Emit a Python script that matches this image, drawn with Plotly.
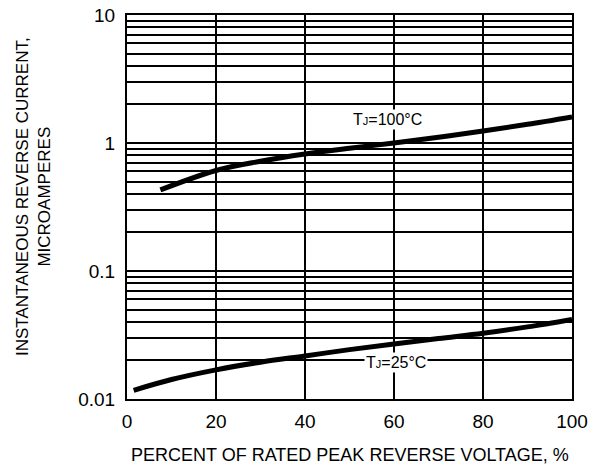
import plotly.graph_objects as go

# Data
pct_100c = [7.5, 20, 30, 40, 50, 60, 70, 80, 90, 100]
cur_100c = [0.43, 0.61, 0.72, 0.82, 0.91, 1.0, 1.11, 1.24, 1.40, 1.60]
pct_25c = [1.5, 10, 20, 30, 40, 50, 60, 70, 80, 90, 100]
cur_25c = [0.0117, 0.0142, 0.0169, 0.0194, 0.0217, 0.0243, 0.0269, 0.0297, 0.0326, 0.0366, 0.0419]

x_ticks = [0, 20, 40, 60, 80, 100]
y_ticks = [0.01, 0.1, 1, 10]
y_tick_text = ["0.01", "0.1", "1", "10"]
y_minor = [m * d for d in (0.01, 0.1, 1) for m in range(2, 10)]

label_100 = "T<span style='font-size:11px'>J</span>=100°C"
label_25 = "T<span style='font-size:11px'>J</span>=25°C"

FONT = "Liberation Sans, Arial, sans-serif"

fig = go.Figure()
fig.add_trace(go.Scatter(x=pct_100c, y=cur_100c, mode="lines",
                         line=dict(color="black", width=5, shape="spline"),
                         showlegend=False, hoverinfo="skip"))
fig.add_trace(go.Scatter(x=pct_25c, y=cur_25c, mode="lines",
                         line=dict(color="black", width=5, shape="spline"),
                         showlegend=False, hoverinfo="skip"))

fig.add_annotation(x=58.5, y=0.18, xref="x", yref="y", text=label_100,
                   showarrow=False, bgcolor="white", borderpad=1,
                   font=dict(family=FONT, size=16, color="black"))
fig.add_annotation(x=60.5, y=-1.715, xref="x", yref="y", text=label_25,
                   showarrow=False, bgcolor="white", borderpad=1,
                   font=dict(family=FONT, size=16, color="black"))

# axis titles
fig.add_annotation(x=(33 - 127) / 445, y=(399 - 197) / 384, xref="paper", yref="paper",
                   xanchor="center", yanchor="middle",
                   text="INSTANTANEOUS REVERSE CURRENT,<br>MICROAMPERES",
                   textangle=-90, showarrow=False,
                   font=dict(family=FONT, size=17, color="black"))
fig.add_annotation(x=0.5, y=(399 - 455) / 384, xref="paper", yref="paper",
                   xanchor="center", yanchor="middle",
                   text="PERCENT OF RATED PEAK REVERSE VOLTAGE, %",
                   showarrow=False,
                   font=dict(family=FONT, size=18, color="black"))

fig.update_xaxes(range=[0, 100], tickvals=x_ticks, ticks="", automargin=False,
                 showgrid=True, gridcolor="black", gridwidth=1.5,
                 showline=True, linecolor="black", linewidth=2, mirror=True,
                 zeroline=False, tickfont=dict(family=FONT, size=19, color="black"),
                 ticklabelstandoff=4)
fig.update_yaxes(type="log", range=[-2, 1], tickvals=y_ticks, ticktext=y_tick_text,
                 ticks="", automargin=False, showgrid=True, gridcolor="black", gridwidth=1.5,
                 minor=dict(tickvals=y_minor, showgrid=True, gridcolor="black",
                            gridwidth=1.5, ticks=""),
                 showline=True, linecolor="black", linewidth=2, mirror=True,
                 zeroline=False, tickfont=dict(family=FONT, size=19, color="black"),
                 ticklabelstandoff=6)

fig.update_layout(width=596, height=468,
                  margin=dict(l=127, r=24, t=15, b=69, autoexpand=False),
                  paper_bgcolor="white", plot_bgcolor="white",
                  font=dict(family=FONT, color="black"))

fig.write_html("out.html", config={"displayModeBar": False},
               post_script="document.body.style.margin='0';document.body.style.overflow='hidden';")
